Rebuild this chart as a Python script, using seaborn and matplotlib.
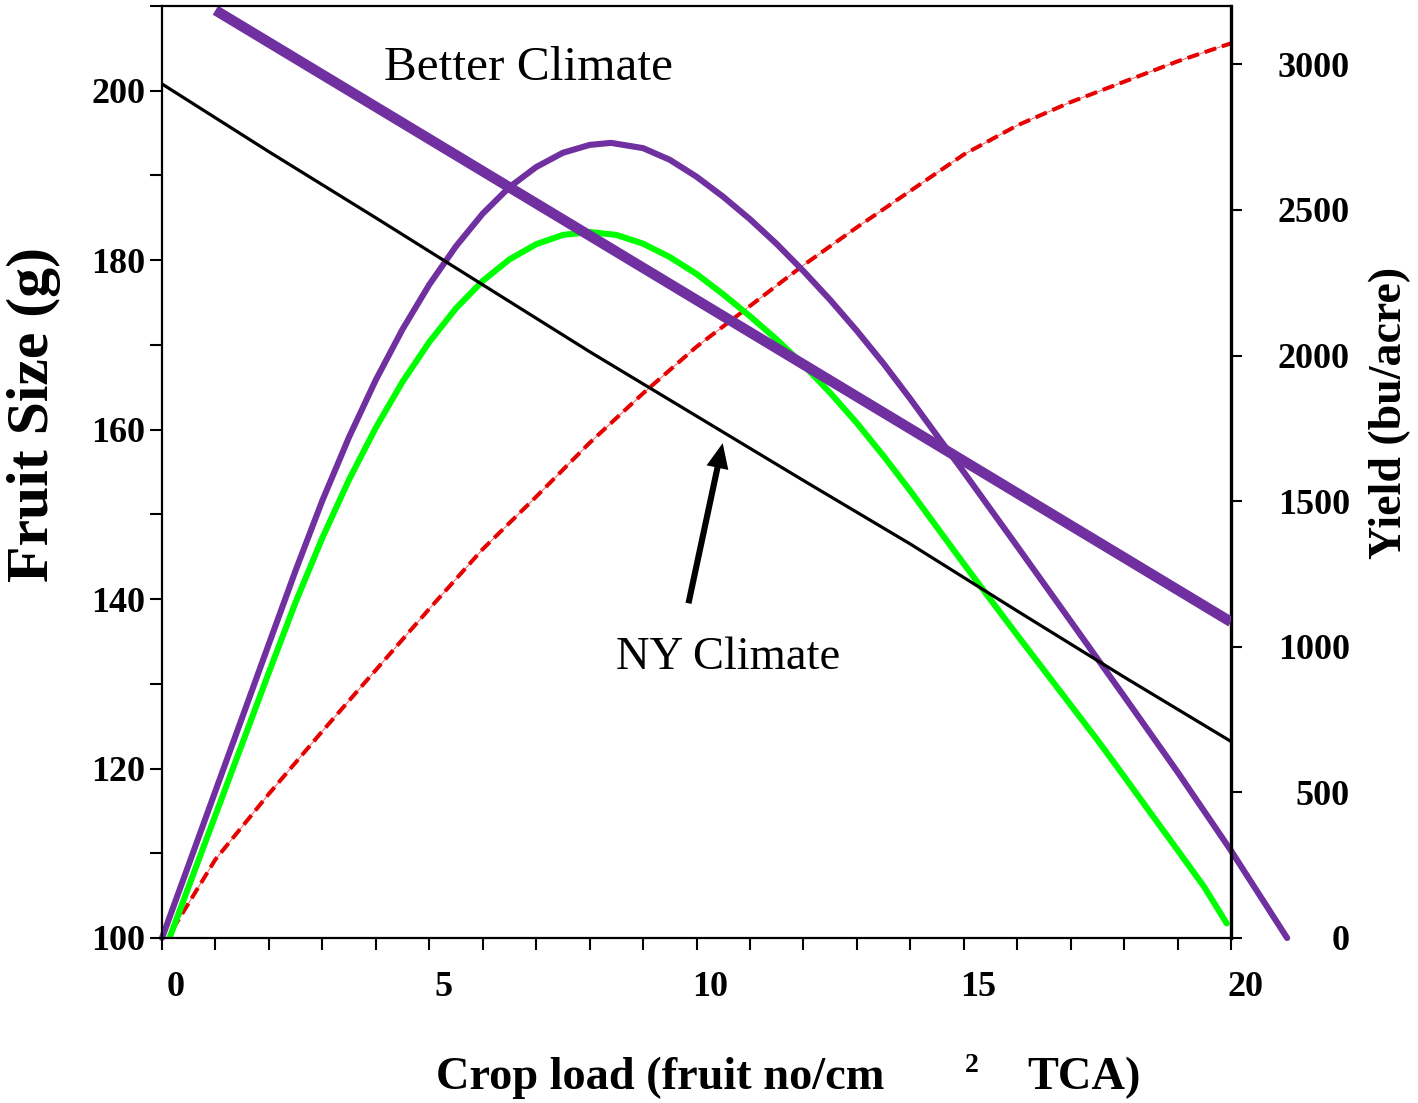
import numpy as np
import pandas as pd
import matplotlib
matplotlib.use("Agg")
import matplotlib.pyplot as plt
import matplotlib.transforms as mtransforms
import seaborn as sns

# ---------------- data ----------------
crop_load_ny_size = [0, 2, 4, 6, 8, 10, 12, 14, 16, 18, 20]
fruit_size_ny = [200.8, 192.8, 185.0, 177.1, 169.2, 161.6, 154.0, 146.5, 138.6, 130.8, 123.2]

crop_load_better_size = [1.0, 20.0]
fruit_size_better = [209.5, 137.3]

crop_load_better_yield = [0, 0.5, 1, 1.5, 2, 2.5, 3, 3.5, 4, 4.5, 5, 5.5, 6, 6.5, 7, 7.5, 8, 8.4,
                          9, 9.5, 10, 10.5, 11, 11.5, 12, 12.5, 13, 13.5, 14, 14.5, 15,
                          16, 17, 18, 19, 20, 21.05]
yield_better = [0, 252, 505, 757, 1010, 1262, 1502, 1720, 1916, 2090, 2243, 2375, 2487, 2578,
                2647, 2696, 2723, 2730, 2712, 2672, 2614, 2545, 2468, 2383, 2290, 2191, 2085,
                1972, 1851, 1725, 1600, 1345, 1088, 830, 570, 300, 0]

crop_load_ny_yield = [0.14, 0.5, 1, 1.5, 2, 2.5, 3, 3.5, 4, 4.5, 5, 5.5, 6, 6.5, 7, 7.5, 8,
                      8.5, 9, 9.5, 10, 10.5, 11, 11.5, 12, 12.5, 13, 13.5, 14, 14.5, 15,
                      15.5, 16, 16.5, 17, 17.5, 18, 18.5, 19, 19.5, 19.92]
yield_ny = [0, 177, 422, 667, 912, 1153, 1374, 1574, 1752, 1910, 2046, 2162, 2256, 2330, 2382,
            2414, 2424, 2414, 2384, 2338, 2280, 2210, 2135, 2055, 1968, 1872, 1768, 1655, 1535,
            1410, 1285, 1162, 1040, 920, 800, 680, 555, 428, 302, 175, 50]

crop_load_red = [0.2, 1, 2, 3, 4, 5, 6, 7, 8, 9, 10, 11, 12, 13, 14, 15, 16, 17, 18, 19, 20]
yield_red = [30, 270, 495, 710, 920, 1130, 1335, 1515, 1700, 1870, 2030, 2170, 2310, 2440,
             2565, 2690, 2790, 2870, 2940, 3010, 3072]

x_ticks = [0, 5, 10, 15, 20]
x_ticklabels = ["0", "5", "10", "15", "20"]
fs_ticks = [100, 120, 140, 160, 180, 200]
fs_ticklabels = ["100", "120", "140", "160", "180", "200"]
yield_ticks = [0, 500, 1000, 1500, 2000, 2500, 3000]
yield_ticklabels = ["0", "500", "1000", "1500", "2000", "2500", "3000"]

# ---------------- figure ----------------
W, H, DPI = 1418, 1103, 100
sns.set_theme(style="white")
plt.rcParams['font.family'] = ['Liberation Serif', 'DejaVu Serif']

PURPLE = "#7030A0"
GREEN = "#00FF00"
RED = "#E60000"

fig = plt.figure(figsize=(W / DPI, H / DPI), dpi=DPI)
L, R, B, T = 162, 1231, 938, 6
ax = fig.add_axes([L / W, 1 - B / H, (R - L) / W, (B - T) / H])
ax2 = ax.twinx()
ax.set_zorder(ax2.get_zorder() + 1)
ax.patch.set_visible(False)

# yield curves (right axis)
sns.lineplot(x=crop_load_red, y=yield_red, ax=ax2, color=RED, lw=0.7, alpha=0.6,
             sort=False, estimator=None)
sns.lineplot(x=crop_load_red, y=yield_red, ax=ax2, color=RED, lw=2.9,
             sort=False, estimator=None)
ax2.lines[-1].set_linestyle((0, (3.0, 1.5)))
sns.lineplot(x=crop_load_ny_yield, y=yield_ny, ax=ax2, color=GREEN, lw=4.4,
             sort=False, estimator=None)
sns.lineplot(x=crop_load_better_yield, y=yield_better, ax=ax2, color=PURPLE, lw=4.4,
             sort=False, estimator=None)
ax2.lines[-1].set_clip_on(False)

# fruit size lines (left axis)
sns.lineplot(x=crop_load_ny_size, y=fruit_size_ny, ax=ax, color="black", lw=2.3,
             sort=False, estimator=None)
sns.lineplot(x=crop_load_better_size, y=fruit_size_better, ax=ax, color=PURPLE, lw=7.5,
             sort=False, estimator=None)
ax.lines[-1].set_solid_capstyle("butt")

# limits
ax.set_xlim(0, 20)
ax.set_ylim(100, 210)
ax2.set_ylim(0, 3200)

# spines
for s in ["left", "bottom", "top"]:
    ax.spines[s].set_visible(True)
    ax.spines[s].set_color("black")
    ax.spines[s].set_linewidth(1.6)
ax.spines["right"].set_visible(False)
for s in ["left", "bottom", "top"]:
    ax2.spines[s].set_visible(False)
ax2.spines["right"].set_visible(True)
ax2.spines["right"].set_color("black")
ax2.spines["right"].set_linewidth(2.4)

# ticks
tick_len = 8.6
ax.tick_params(axis="x", which="both", direction="out", length=tick_len, width=1.5,
               bottom=True, top=False, color="black", pad=15.5)
ax.tick_params(axis="y", which="both", direction="out", length=tick_len, width=1.5,
               left=True, right=False, color="black", pad=3.6)
ax2.tick_params(axis="y", which="both", direction="out", length=8, width=1.5,
                right=True, left=False, color="black", pad=77.5)

ax.set_xticks(x_ticks)
ax.set_xticks(np.arange(0, 21, 1), minor=True)
ax.set_xticklabels(x_ticklabels, fontsize=26, fontweight="bold", color="black")
ax.set_yticks(fs_ticks)
ax.set_yticks(np.arange(110, 211, 20), minor=True)
ax.set_yticklabels(fs_ticklabels, fontsize=26, fontweight="bold", color="black")
ax2.set_yticks(yield_ticks)
ax2.set_yticklabels(yield_ticklabels, fontsize=26, fontweight="bold", color="black", ha="right")

offset = mtransforms.ScaledTranslation(14 / DPI, 0, fig.dpi_scale_trans)
for lab in ax.get_xticklabels():
    lab.set_transform(lab.get_transform() + offset)

ax.set_xlabel("")
ax.set_ylabel("")
ax2.set_ylabel("")
ax.grid(False)
ax2.grid(False)

# axis titles
fig.text(34 / W, 1 - 415 / H, "Fruit Size (g)", rotation=90, ha="center", va="center",
         fontsize=43, fontweight="bold", color="black")
fig.text(1390 / W, 1 - 413 / H, "Yield (bu/acre)", rotation=90, ha="center", va="center",
         fontsize=33, fontweight="bold", color="black")
fig.text(436 / W, 1 - 1078 / H, "Crop load (fruit no/cm", ha="left", va="center",
         fontsize=33.4, fontweight="bold", color="black")
fig.text(972 / W, 1 - 1066 / H, "2", ha="center", va="center",
         fontsize=20, fontweight="bold", color="black")
fig.text(1027 / W, 1 - 1078 / H, "TCA)", ha="left", va="center",
         fontsize=33.4, fontweight="bold", color="black")

# annotations
ax.text(6.85, 202.7, "Better Climate", ha="center", va="center", fontsize=35.5, color="black")
ax.text(10.6, 133.1, "NY Climate", ha="center", va="center", fontsize=33.5, color="black")
ax.annotate("", xy=(10.49, 158.4), xytext=(9.85, 139.5),
            arrowprops=dict(arrowstyle="simple,head_length=0.9,head_width=0.8,tail_width=0.22",
                            mutation_scale=20, fc="black", ec="none", shrinkA=0, shrinkB=0))

fig.savefig("out.png", dpi=DPI, facecolor="white")
